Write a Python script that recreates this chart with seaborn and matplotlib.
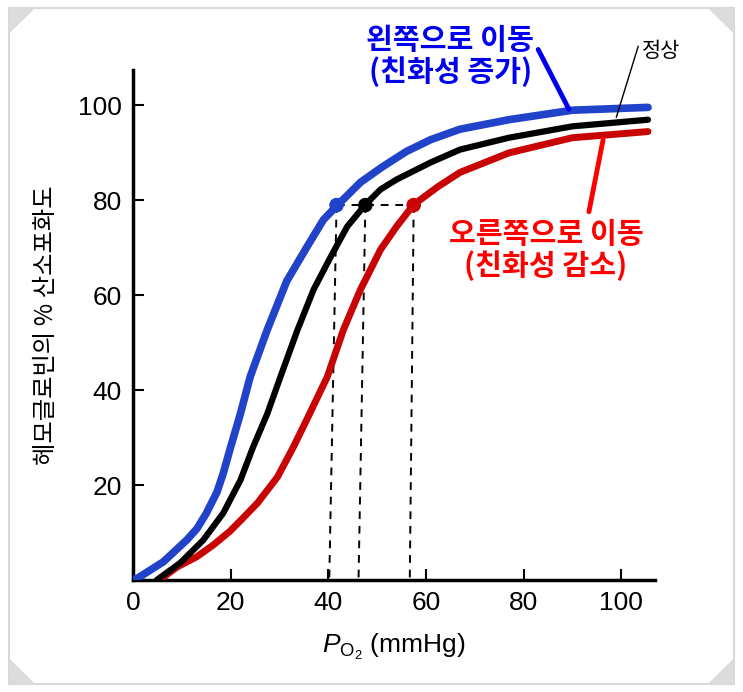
import pandas as pd
import matplotlib.pyplot as plt
import matplotlib.patches as mpatches
import seaborn as sns

# P_O2 (mmHg) vs % saturation
left_x = [0, 1, 6.2, 11, 13.1, 15, 17.2, 18.5, 20, 22, 24, 27.5, 31.5, 35.7, 39, 41.9, 46.6, 51, 56, 61, 67, 77, 90, 105.5]
left_y = [0, 0.4, 3.8, 8.4, 10.8, 14, 18.5, 22.5, 28, 35, 42.8, 52.7, 63, 70.3, 75.9, 79, 83.8, 87, 90.3, 92.8, 95, 97, 99, 99.6]

normal_x = [4.9, 9.7, 14.4, 18.5, 22, 24.6, 27.5, 30.2, 33.7, 37, 40.5, 43.9, 47.6, 50.7, 54, 61, 67, 77, 90, 105.5]
normal_y = [0, 3.6, 8.4, 14.1, 21, 28, 35, 42.8, 52.7, 61.2, 68.1, 74.5, 79.1, 82.3, 84.4, 88, 90.7, 93.2, 95.6, 97]

right_x = [5.5, 9, 13.1, 16.5, 19.9, 22.5, 25.5, 29.6, 32.9, 35.7, 39.8, 43.1, 46.6, 50.7, 54, 57.5, 62.5, 67, 77, 90, 105.5]
right_y = [0, 2.7, 4.9, 7.4, 10.3, 13, 16.2, 21.7, 28.1, 34, 42.8, 52.7, 61.2, 69.6, 74.5, 79.1, 82.9, 85.9, 90, 93.2, 94.5]

# markers at ~79 % saturation
dot_x = [41.7, 47.6, 57.5]
dot_y = [79, 79, 79]
drop_x = [40.2, 46.2, 56.7]

x_ticks = [0, 20, 40, 60, 80, 100]
y_ticks = [20, 40, 60, 80, 100]

sns.set_style("ticks")
plt.rcParams['font.family'] = ['Liberation Sans', 'Noto Sans CJK KR']
plt.rcParams['mathtext.fontset'] = 'custom'
plt.rcParams['mathtext.rm'] = 'Liberation Sans'
plt.rcParams['mathtext.it'] = 'Liberation Sans:italic'
for k in ['text.color', 'axes.labelcolor', 'xtick.color', 'ytick.color', 'axes.edgecolor']:
    plt.rcParams[k] = 'black'

blue = '#2143c9'
red = '#c80404'

fig = plt.figure(figsize=(7.43, 6.92), dpi=100)
ax = fig.add_axes([0.179, 0.162, 0.703, 0.737])

# dashed guide lines
ax.plot([dot_x[0], dot_x[2]], [79, 79], color='black', lw=1.4, ls=(0, (4, 3.5)), zorder=1)
for dx, bx in zip(dot_x, drop_x):
    ax.plot([dx, bx], [79, 0], color='black', lw=1.4, ls=(0, (4, 3.5)), zorder=1)

sns.lineplot(x=right_x, y=right_y, color=red, lw=5, ax=ax, sort=False, zorder=3,
             solid_joinstyle='round', solid_capstyle='round')
sns.lineplot(x=normal_x, y=normal_y, color='black', lw=4.5, ax=ax, sort=False, zorder=4,
             solid_joinstyle='round', solid_capstyle='round')
sns.lineplot(x=left_x, y=left_y, color=blue, lw=5.5, ax=ax, sort=False, zorder=5,
             solid_joinstyle='round', solid_capstyle='round')

dots = pd.DataFrame({'x': dot_x, 'y': dot_y, 'c': ['L', 'N', 'R']})
sns.scatterplot(data=dots, x='x', y='y', hue='c', palette=[blue, 'black', red],
                s=110, edgecolor='none', legend=False, ax=ax, zorder=6)

ax.set_xlim(0, 107)
ax.set_ylim(0, 107.5)
ax.set_xticks(x_ticks)
ax.set_yticks(y_ticks)
ax.tick_params(direction='in', length=8, width=1.5, labelsize=19, pad=8)
for s in ['top', 'right']:
    ax.spines[s].set_visible(False)
for s in ['left', 'bottom']:
    ax.spines[s].set_linewidth(2.5)

ax.set_xlabel(r'$P_{\mathrm{O_2}}$ (mmHg)', fontsize=19, labelpad=12)
ax.set_ylabel('헤모글로빈의 % 산소포화도', fontsize=17.5, family='Noto Sans CJK KR', labelpad=14)

# leader lines and callouts
ax.plot([83, 89.3], [111.8, 99.2], color='#0000ee', lw=3.5, clip_on=False, zorder=7)
ax.plot([103.5, 99], [112.5, 97.5], color='black', lw=1, clip_on=False, zorder=7)
ax.plot([96.3, 93.4], [92.8, 77.6], color='#ff0000', lw=3.5, clip_on=False, zorder=7)

ax.text(65, 110.5, '왼쪽으로 이동\n(친화성 증가)', color='#0000ee', fontsize=21,
        fontweight='bold', family='Noto Sans CJK KR', ha='center', va='center',
        linespacing=1.05)
ax.text(84.6, 69.5, '오른쪽으로 이동\n(친화성 감소)', color='#ff0000', fontsize=21,
        fontweight='bold', family='Noto Sans CJK KR', ha='center', va='center',
        linespacing=1.05)
ax.text(104.3, 111.5, '정상', fontsize=15, family='Noto Sans CJK KR', ha='left', va='center')

# page-like frame
fig.patches.append(mpatches.Rectangle((0.012, 0.012), 0.976, 0.976, transform=fig.transFigure,
                                      fill=False, edgecolor='#d8d8d8', lw=1.5))
for cx, cy, dx, dy in [(0.012, 0.988, 1, -1), (0.988, 0.988, -1, -1),
                       (0.012, 0.012, 1, 1), (0.988, 0.012, -1, 1)]:
    fig.patches.append(mpatches.Polygon([(cx, cy), (cx + dx * 0.035, cy), (cx, cy + dy * 0.037)],
                                        closed=True, transform=fig.transFigure,
                                        facecolor='#dcdcdc', edgecolor='none'))

fig.savefig('out.png', dpi=100)
